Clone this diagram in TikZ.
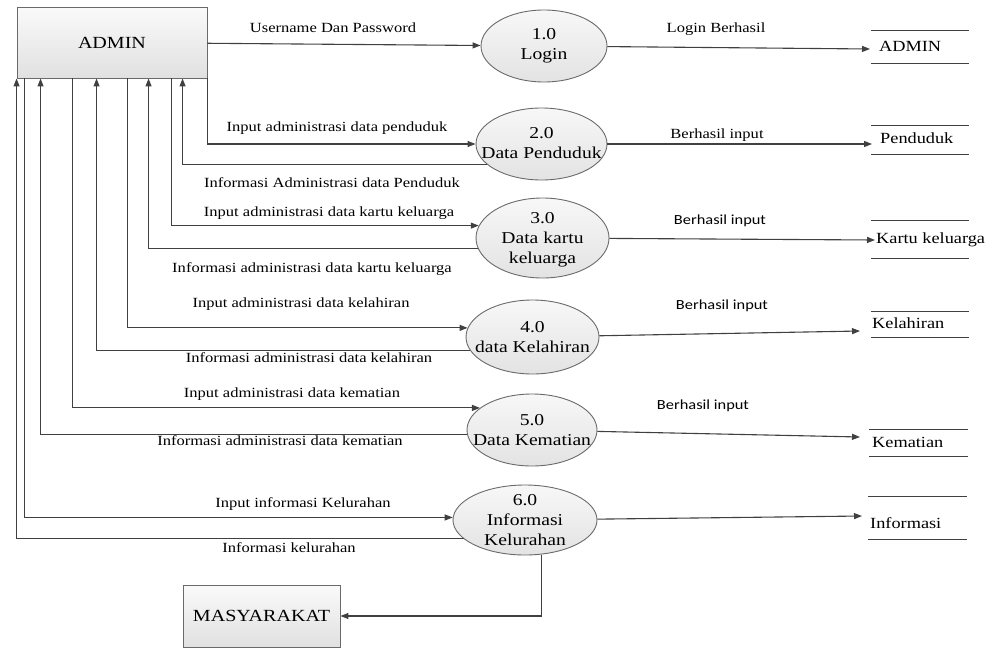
\documentclass[tikz,border=0pt]{standalone}
\usepackage{fontspec}
\setmainfont{Liberation Serif}[FakeStretch=1.18]
\newfontfamily\lblsansfont{Carlito}[FakeStretch=1.18]
\usetikzlibrary{arrows.meta,shapes.geometric}

\definecolor{ink}{HTML}{404040}
\definecolor{edgegray}{HTML}{6A6A6A}

\tikzset{
  flow/.style={draw=ink, line width=1.1pt, -{Triangle[length=8pt,width=6pt]}},
  entity/.style={rectangle, draw=edgegray, line width=0.9pt,
    top color=white!98!black, bottom color=white!88!black,
    font=\fontsize{17}{20}\selectfont, inner sep=0pt},
  proc/.style={ellipse, draw=edgegray, line width=0.9pt,
    top color=white!97!black, bottom color=white!89!black, inner sep=0pt},
  proctext/.style={align=center, font=\fontsize{16.6}{20}\selectfont, inner sep=0pt},
  store/.style={inner sep=0pt, minimum width=98pt},
  storetext/.style={anchor=west, inner sep=0pt, font=\fontsize{15.5}{18}\selectfont},
  storeline/.style={draw=ink, line width=1pt},
  lbl/.style={font=\fontsize{14}{16}\selectfont, inner sep=1pt},
  sanslbl/.style={font=\lblsansfont\fontsize{13.9}{16}\selectfont, inner sep=1pt},
}

\begin{document}
\begin{tikzpicture}[x=1pt, y=-1pt]
\useasboundingbox (0,0) rectangle (992,648);

% external entities
\node[entity, minimum width=190pt, minimum height=71pt] (admin) at (112,42.5) {ADMIN};
\node[entity, minimum width=157pt, minimum height=62pt] (masy) at (261.5,616) {MASYARAKAT};

% processes
\node[proc, minimum width=126pt, minimum height=72pt] (p1) at (544,46) {};
\node[proctext] (t1) at (p1) {1.0\\Login};
\node[proc, minimum width=131pt, minimum height=72pt] (p2) at (541.5,144) {};
\node[proctext] (t2) at (541.5,143) {2.0\\Data Penduduk};
\node[proc, minimum width=133pt, minimum height=80pt] (p3) at (542.5,238) {};
\node[proctext] (t3) at (542.5,240) {3.0\\Data kartu\\keluarga};
\node[proc, minimum width=133pt, minimum height=74pt] (p4) at (532.5,337) {};
\node[proctext] (t4) at (p4) {4.0\\data Kelahiran};
\node[proc, minimum width=130pt, minimum height=72pt] (p5) at (532,430) {};
\node[proctext] (t5) at (p5) {5.0\\Data Kematian};
\node[proc, minimum width=144pt, minimum height=70pt] (p6) at (525,520) {};
\node[proctext] (t6) at (p6) {6.0\\Informasi\\Kelurahan};

% data stores
\node[store, minimum height=32pt] (s1) at (920,47) {};
\node[store, minimum height=28pt] (s2) at (920,140) {};
\node[store, minimum height=37pt] (s3) at (920,239.5) {};
\node[store, minimum height=25pt] (s4) at (920,324.5) {};
\node[store, minimum height=26pt] (s5) at (918.5,443) {};
\node[store, minimum height=42pt] (s6) at (917.5,518) {};
\foreach \s in {s1,s2,s3,s4,s5,s6}
  \draw[storeline] (\s.north west) -- (\s.north east) (\s.south west) -- (\s.south east);

\node[storetext] (st1) at (879,46) {ADMIN};
\node[storetext] (st2) at (880,138) {Penduduk};
\node[storetext] (st3) at (876,240) {Kartu keluarga};
\node[storetext] (st4) at (872,323) {Kelahiran};
\node[storetext] (st5) at (872,442) {Kematian};
\node[storetext] (st6) at (870,523) {Informasi};

% store inlets
\coordinate (s1in) at (870,49);
\coordinate (s2in) at (872,144);
\coordinate (s3in) at (875,240);
\coordinate (s4in) at (860,331);
\coordinate (s5in) at (860,437);
\coordinate (s6in) at (862,516);

% process -> store
\draw[flow] (p1) -- (s1in);
\draw[flow] (p2) -- (s2in);
\draw[flow] (p3) -- (s3in);
\draw[flow] (p4) -- (s4in);
\draw[flow] (p5) -- (s5in);
\draw[flow] (p6) -- (s6in);

% admin -> process
\draw[flow] (admin) -- (p1);
\draw[flow] (admin.south east) |- (p2.west);
\draw[flow] ([xshift=155pt]admin.south west) |- (p3.169);
\draw[flow] ([xshift=111pt]admin.south west) |- (p4.172);
\draw[flow] ([xshift=56pt]admin.south west) |- (p5.157);
\draw[flow] ([xshift=8pt]admin.south west) |- (p6.178);

% process -> admin
\draw[flow] (p2.201) -| ([xshift=166pt]admin.south west);
\draw[flow] (p3.189) -| ([xshift=132pt]admin.south west);
\draw[flow] (p4.192) -| ([xshift=80pt]admin.south west);
\draw[flow] (p5.184) -| ([xshift=24pt]admin.south west);
\draw[flow] (p6.197) -| (admin.south west);

% process -> masyarakat
\draw[flow] (p6.295) |- (masy.east);

% flow labels
\node[lbl] (l1) at (333,28) {Username Dan Password};
\node[lbl] (l2) at (337,128) {Input administrasi data penduduk};
\node[lbl] (l3) at (332,183) {Informasi Administrasi data Penduduk};
\node[lbl] (l4) at (329,213) {Input administrasi data kartu keluarga};
\node[lbl] (l5) at (312,269) {Informasi administrasi data kartu keluarga};
\node[lbl] (l6) at (301,304) {Input administrasi data kelahiran};
\node[lbl] (l7) at (309,358) {Informasi administrasi data kelahiran};
\node[lbl] (l8) at (292,394) {Input administrasi data kematian};
\node[lbl] (l9) at (280,441) {Informasi administrasi data kematian};
\node[lbl] (l10) at (303,504) {Input informasi Kelurahan};
\node[lbl] (l11) at (289,548) {Informasi kelurahan};
\node[lbl] (l12) at (716,29) {Login Berhasil};
\node[lbl] (l13) at (717,135) {Berhasil input};
\node[sanslbl] (l14) at (720,221) {Berhasil input};
\node[sanslbl] (l15) at (722,306) {Berhasil input};
\node[sanslbl] (l16) at (703,406) {Berhasil input};
\end{tikzpicture}
\end{document}
